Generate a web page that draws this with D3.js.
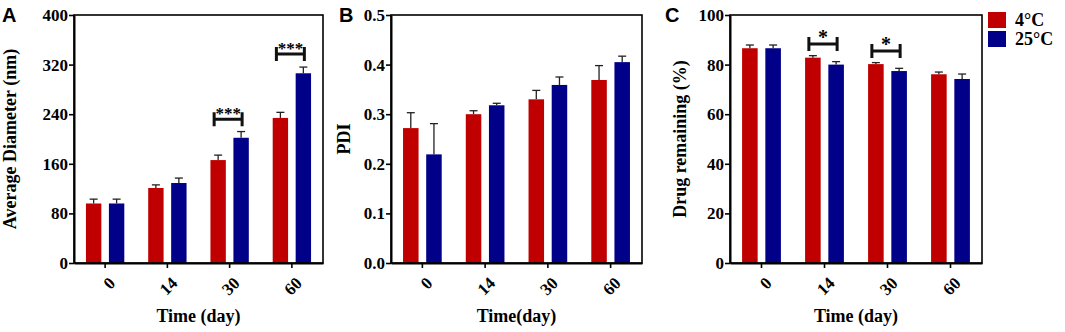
<!DOCTYPE html>
<html>
<head>
<meta charset="utf-8">
<script src="https://cdn.jsdelivr.net/npm/d3@7"></script>
<style>
  body { margin: 0; background: #fff; }
  text { font-family: "Liberation Serif", "Times New Roman", serif; font-weight: bold; }
</style>
</head>
<body>
<div id="chart"></div>
<script>
// categories and series
const days = ["0", "14", "30", "60"];
const series = ["4°C", "25°C"];
const colors = ["#c00000", "#000088"];

// A: average diameter (nm)
const diam4 = [96, 121, 166, 234];
const diam4Err = [7, 5, 8, 9];
const diam25 = [96, 129, 202, 306];
const diam25Err = [7, 8, 10, 10];
const diamTicks = [0, 80, 160, 240, 320, 400];

// B: PDI
const pdi4 = [0.272, 0.300, 0.330, 0.369];
const pdi4Err = [0.031, 0.007, 0.018, 0.029];
const pdi25 = [0.219, 0.318, 0.359, 0.405];
const pdi25Err = [0.062, 0.004, 0.016, 0.012];
const pdiTicks = [0, 0.1, 0.2, 0.3, 0.4, 0.5];

// C: drug remaining (%)
const drug4 = [86.6, 82.8, 80.2, 76.1];
const drug4Err = [1.3, 0.8, 0.6, 0.9];
const drug25 = [86.6, 80.0, 77.4, 74.2];
const drug25Err = [1.3, 1.2, 1.1, 2.0];
const drugTicks = [0, 20, 40, 60, 80, 100];

// significance brackets (day, level on y scale, label)
const diamSig = [{ day: "30", level: 232, label: "***" }, { day: "60", level: 337, label: "***" }];
const drugSig = [{ day: "14", level: 88.3, label: "*" }, { day: "30", level: 85.5, label: "*" }];

const W = 1065, H = 332;
const plotTop = 15, plotBottom = 263;

const svg = d3.select("#chart").append("svg")
    .attr("width", W)
    .attr("height", H);

function drawPanel(cfg) {
    const g = svg.append("g");

    const x0 = d3.scaleBand().domain(days).range([cfg.left, cfg.right]).padding(0);
    const xSub = d3.scaleBand().domain(series).range([0, x0.bandwidth()])
        .paddingInner(0.33).paddingOuter(0.52);
    const y = d3.scaleLinear().domain(cfg.domain).range([plotBottom, plotTop]);

    // bars
    const rows = [];
    days.forEach((d, i) => {
        rows.push({ day: d, s: series[0], v: cfg.v4[i], e: cfg.e4[i], c: colors[0] });
        rows.push({ day: d, s: series[1], v: cfg.v25[i], e: cfg.e25[i], c: colors[1] });
    });

    g.selectAll(".bar")
        .data(rows)
        .enter().append("rect")
        .attr("class", "bar")
        .attr("x", d => x0(d.day) + xSub(d.s))
        .attr("y", d => y(d.v))
        .attr("width", xSub.bandwidth())
        .attr("height", d => plotBottom - y(d.v))
        .attr("fill", d => d.c);

    // error bars (upper only)
    const cx = d => x0(d.day) + xSub(d.s) + xSub.bandwidth() / 2;
    g.selectAll(".err")
        .data(rows)
        .enter().append("line")
        .attr("x1", cx).attr("x2", cx)
        .attr("y1", d => y(d.v))
        .attr("y2", d => y(d.v + d.e))
        .attr("stroke", "#222").attr("stroke-width", 1.3);
    g.selectAll(".cap")
        .data(rows)
        .enter().append("line")
        .attr("x1", d => cx(d) - 4).attr("x2", d => cx(d) + 4)
        .attr("y1", d => y(d.v + d.e))
        .attr("y2", d => y(d.v + d.e))
        .attr("stroke", "#222").attr("stroke-width", 1.3);

    // frame
    g.append("rect")
        .attr("x", cfg.left).attr("y", plotTop)
        .attr("width", cfg.right - cfg.left).attr("height", plotBottom - plotTop)
        .attr("fill", "none").attr("stroke", "#000").attr("stroke-width", 1.6);

    // y axis
    const ya = g.append("g")
        .attr("transform", `translate(${cfg.left},0)`)
        .call(d3.axisLeft(y).tickValues(cfg.ticks).tickFormat(cfg.fmt).tickSize(5).tickSizeOuter(0));
    ya.select(".domain").attr("stroke-width", 2);
    ya.selectAll(".tick line").attr("stroke-width", 1.6);
    ya.selectAll("text").attr("font-size", 17).attr("fill", "#000").attr("x", -6);

    // x axis, ticks only; labels drawn rotated below
    const xa = g.append("g")
        .attr("transform", `translate(0,${plotBottom})`)
        .call(d3.axisBottom(x0).tickSize(5).tickSizeOuter(0));
    xa.select(".domain").attr("stroke-width", 2);
    xa.selectAll(".tick line").attr("stroke-width", 1.6);
    xa.selectAll(".tick text").remove();

    g.selectAll(".xlab")
        .data(days)
        .enter().append("text")
        .attr("class", "xlab")
        .attr("x", d => x0(d) + x0.bandwidth() / 2 + 7)
        .attr("y", plotBottom + 17)
        .attr("transform", d => `rotate(-45,${x0(d) + x0.bandwidth() / 2 + 7},${plotBottom + 17})`)
        .attr("font-size", 17).attr("fill", "#000")
        .attr("text-anchor", "end")
        .attr("dy", "0.35em")
        .text(d => d);

    // axis titles
    g.append("text")
        .attr("transform", `translate(${cfg.ytx},${(plotTop + plotBottom) / 2}) rotate(-90)`)
        .attr("text-anchor", "middle").attr("dy", "0.35em")
        .attr("font-size", 18)
        .text(cfg.ytitle);
    g.append("text")
        .attr("x", (cfg.left + cfg.right) / 2).attr("y", 322)
        .attr("text-anchor", "middle")
        .attr("font-size", 18)
        .text(cfg.xtitle);

    // panel letter
    g.append("text")
        .attr("x", cfg.lx).attr("y", 22)
        .attr("font-size", 20)
        .style("font-family", "'Liberation Sans', Arial, sans-serif")
        .text(cfg.letter);

    // significance brackets
    (cfg.sig || []).forEach(s => {
        const xa1 = x0(s.day) + xSub(series[0]) + xSub.bandwidth() / 2 - 4;
        const xa2 = x0(s.day) + xSub(series[1]) + xSub.bandwidth() / 2 + 1;
        const yy = y(s.level);
        g.append("path")
            .attr("d", `M${xa1},${yy - 7}V${yy + 7}M${xa1},${yy}H${xa2}M${xa2},${yy - 7}V${yy + 7}`)
            .attr("fill", "none").attr("stroke", "#111").attr("stroke-width", 3);
        g.append("text")
            .attr("x", (xa1 + xa2) / 2).attr("y", yy)
            .attr("text-anchor", "middle")
            .attr("font-size", s.label.length > 1 ? 17 : 20)
            .text(s.label);
    });
}

drawPanel({
    left: 74, right: 323, domain: [0, 400], ticks: diamTicks, fmt: d3.format("d"),
    v4: diam4, e4: diam4Err, v25: diam25, e25: diam25Err,
    ytitle: "Average Diameter (nm)", ytx: 10, xtitle: "Time (day)",
    letter: "A", lx: 2, sig: diamSig
});
drawPanel({
    left: 391, right: 642, domain: [0, 0.5], ticks: pdiTicks, fmt: d3.format(".1f"),
    v4: pdi4, e4: pdi4Err, v25: pdi25, e25: pdi25Err,
    ytitle: "PDI", ytx: 344, xtitle: "Time(day)",
    letter: "B", lx: 339, sig: []
});
drawPanel({
    left: 730, right: 982, domain: [0, 100], ticks: drugTicks, fmt: d3.format("d"),
    v4: drug4, e4: drug4Err, v25: drug25, e25: drug25Err,
    ytitle: "Drug remaining (%)", ytx: 680, xtitle: "Time (day)",
    letter: "C", lx: 665, sig: drugSig
});

// legend
const legend = svg.append("g").attr("transform", "translate(988,12)");
series.forEach((s, i) => {
    legend.append("rect")
        .attr("x", 0).attr("y", i * 19)
        .attr("width", 18).attr("height", 16)
        .attr("fill", colors[i]);
    legend.append("text")
        .attr("x", 27).attr("y", i * 19 + 14)
        .attr("font-size", 18)
        .text(s);
});
</script>
</body>
</html>
